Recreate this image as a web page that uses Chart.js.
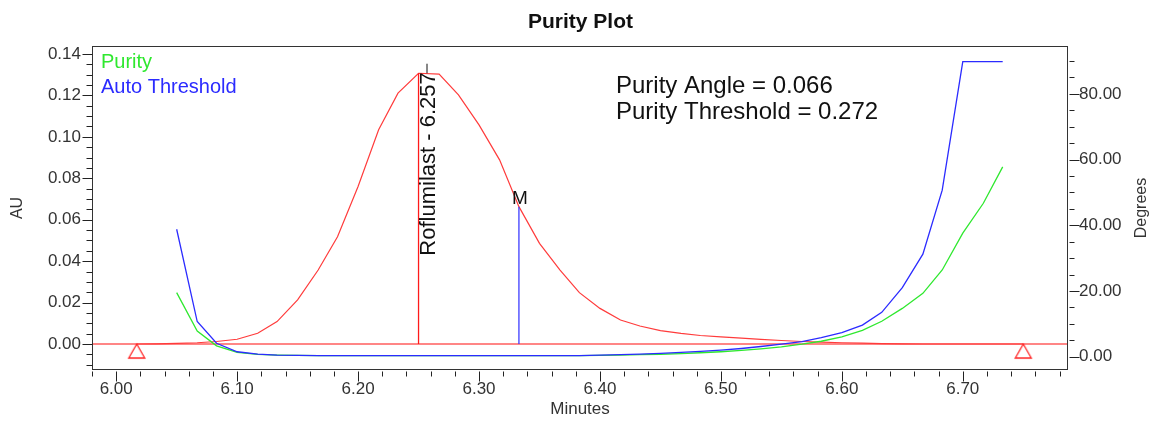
<!DOCTYPE html>
<html>
<head>
<meta charset="utf-8">
<title>Purity Plot</title>
<script src="https://cdn.jsdelivr.net/npm/chart.js@4.4.0/dist/chart.umd.min.js"></script>
<style>
  html, body { margin: 0; padding: 0; background: #fff; }
  canvas { display: block; }
</style>
</head>
<body>
<canvas id="purityChart" width="1151" height="422"></canvas>
<script>
// Chromatogram (AU) sampled every second
const peakTimes = [6.017, 6.033, 6.050, 6.067, 6.083, 6.100, 6.117, 6.133, 6.150, 6.167, 6.183,
  6.200, 6.217, 6.233, 6.250, 6.267, 6.283, 6.300, 6.317, 6.333, 6.350, 6.367, 6.383, 6.400,
  6.417, 6.433, 6.450, 6.467, 6.483, 6.500, 6.517, 6.533, 6.550, 6.567, 6.583, 6.600, 6.617,
  6.633, 6.650, 6.667, 6.683, 6.700, 6.717, 6.733, 6.750];
const peakAU = [0.0000, 0.0001, 0.0003, 0.0006, 0.0012, 0.0023, 0.0052, 0.0108, 0.0213, 0.0357, 0.0518,
  0.0760, 0.1034, 0.1211, 0.1307, 0.1303, 0.1203, 0.1058, 0.0889, 0.0663, 0.0486, 0.0357, 0.0248, 0.0172,
  0.0116, 0.0087, 0.0065, 0.0051, 0.0041, 0.0034, 0.0028, 0.0022, 0.0017, 0.0012, 0.0009, 0.0006, 0.0004,
  0.0002, 0.0001, 0.0000, 0.0000, 0.0000, 0.0000, 0.0000, 0.0000];

// Purity angle / threshold (degrees)
const angleTimes = [6.050, 6.067, 6.083, 6.100, 6.117, 6.133, 6.150, 6.167, 6.183, 6.200, 6.217,
  6.233, 6.250, 6.267, 6.283, 6.300, 6.317, 6.333, 6.350, 6.367, 6.383, 6.400, 6.417, 6.433,
  6.450, 6.467, 6.483, 6.500, 6.517, 6.533, 6.550, 6.567, 6.583, 6.600, 6.617, 6.633, 6.650,
  6.667, 6.683, 6.700, 6.717, 6.733];
const purityAngle = [19.5, 7.8, 3.3, 1.3, 0.7, 0.5, 0.4, 0.35, 0.3, 0.3, 0.3,
  0.3, 0.3, 0.3, 0.3, 0.3, 0.3, 0.3, 0.3, 0.3, 0.35, 0.4, 0.5, 0.6,
  0.75, 0.95, 1.2, 1.5, 1.9, 2.4, 3.0, 3.8, 4.7, 6.0, 8.0, 10.8, 14.7,
  19.3, 26.4, 37.6, 46.7, 57.8];
const autoThreshold = [38.8, 10.7, 4.1, 1.5, 0.8, 0.5, 0.4, 0.35, 0.3, 0.3, 0.3,
  0.3, 0.3, 0.3, 0.3, 0.3, 0.3, 0.3, 0.3, 0.3, 0.35, 0.45, 0.6, 0.8,
  1.0, 1.3, 1.6, 2.0, 2.5, 3.1, 3.8, 4.6, 5.8, 7.3, 9.6, 13.5, 21.0,
  31.2, 50.7, 89.8, 89.8, 89.8];

// Baseline, integration markers, apex line, label leader, M line
const baselineTimes = [5.98, 6.787];
const baselineAU = [0, 0];
const markerTimes = [6.017, 6.750];
const markerAU = [0, 0];
const apexTimes = [6.250, 6.250];
const apexAU = [0, 0.1307];
const leaderTimes = [6.257, 6.257];
const leaderAU = [0.1307, 0.1353];
const mTimes = [6.333, 6.333];
const mAU = [0, 0.0663];

// Tick labels
const minuteLabels = ['6.00', '6.10', '6.20', '6.30', '6.40', '6.50', '6.60', '6.70'];
const auLabels = ['0.00', '0.02', '0.04', '0.06', '0.08', '0.10', '0.12', '0.14'];
const degreeLabels = ['0.00', '20.00', '40.00', '60.00', '80.00'];

const FONT = '"Liberation Sans", Arial, sans-serif';
Chart.defaults.font.family = FONT;

function pts(xs, ys) {
  return xs.map((x, i) => ({ x: x, y: ys[i] }));
}

// hollow triangle hanging below the baseline point
function triangleMarker() {
  const c = document.createElement('canvas');
  c.width = 22;
  c.height = 34;
  const g = c.getContext('2d');
  g.strokeStyle = '#ff2424';
  g.lineWidth = 1.3;
  g.beginPath();
  g.moveTo(11, 17);
  g.lineTo(19, 31);
  g.lineTo(3, 31);
  g.closePath();
  g.stroke();
  return c;
}

// only label ticks that sit exactly on a listed value
function labelFrom(list) {
  return function (value) {
    const s = Number(value).toFixed(2);
    if (!list.includes(s)) return '';
    return Math.abs(value - parseFloat(s)) < 1e-6 ? s : '';
  };
}

const decor = {
  id: 'decor',
  afterDatasetsDraw(chart) {
    const ctx = chart.ctx;
    const a = chart.chartArea;
    const x = chart.scales.x;
    const y = chart.scales.y;
    ctx.save();

    // legend
    ctx.font = '20px ' + FONT;
    ctx.textAlign = 'left';
    ctx.textBaseline = 'alphabetic';
    ctx.fillStyle = '#2fe82f';
    ctx.fillText('Purity', a.left + 9, a.top + 22);
    ctx.fillStyle = '#2b2bff';
    ctx.fillText('Auto Threshold', a.left + 9, a.top + 47);

    // purity results
    ctx.font = '24px ' + FONT;
    ctx.fillStyle = '#111';
    ctx.fillText('Purity Angle = 0.066', a.left + 524, a.top + 47);
    ctx.fillText('Purity Threshold = 0.272', a.left + 524, a.top + 73);

    // peak label
    ctx.save();
    ctx.translate(x.getPixelForValue(leaderTimes[0]) + 8, y.getPixelForValue(leaderAU[0]) - 1);
    ctx.rotate(-Math.PI / 2);
    ctx.font = '22px ' + FONT;
    ctx.textAlign = 'right';
    ctx.fillStyle = '#111';
    ctx.fillText('Roflumilast - 6.257', 0, 0);
    ctx.restore();

    // M label
    ctx.font = '19px ' + FONT;
    ctx.textAlign = 'center';
    ctx.fillStyle = '#111';
    ctx.fillText('M', x.getPixelForValue(mTimes[1]) + 1, y.getPixelForValue(mAU[1]) - 3);
    ctx.restore();
  },
  afterDraw(chart) {
    const ctx = chart.ctx;
    const a = chart.chartArea;
    const x0 = Math.round(a.left) + 0.5;
    const x1 = Math.round(a.right) - 0.5;
    const y0 = Math.round(a.top) + 0.5;
    const y1 = Math.round(a.bottom) - 0.5;
    ctx.save();
    ctx.strokeStyle = '#333';
    ctx.lineWidth = 1;
    ctx.strokeRect(x0, y0, x1 - x0, y1 - y0);

    ctx.strokeStyle = '#222';
    ctx.beginPath();
    chart.scales.x.ticks.forEach(t => {
      const px = Math.round(chart.scales.x.getPixelForValue(t.value)) + 0.5;
      ctx.moveTo(px, y1 + 2);
      ctx.lineTo(px, y1 + 2 + (t.label ? 10 : 5));
    });
    chart.scales.y.ticks.forEach(t => {
      const py = Math.round(chart.scales.y.getPixelForValue(t.value)) + 0.5;
      ctx.moveTo(x0, py);
      ctx.lineTo(x0 - (t.label ? 10 : 6), py);
    });
    chart.scales.y1.ticks.forEach(t => {
      const py = Math.round(chart.scales.y1.getPixelForValue(t.value)) + 0.5;
      ctx.moveTo(x1 + 2, py);
      ctx.lineTo(x1 + 2 + (t.label ? 10 : 5), py);
    });
    ctx.stroke();

    // right axis title, reading upwards
    ctx.translate(chart.width - 9.5, (a.top + a.bottom) / 2);
    ctx.rotate(-Math.PI / 2);
    ctx.font = '16px ' + FONT;
    ctx.fillStyle = '#333';
    ctx.textAlign = 'center';
    ctx.textBaseline = 'middle';
    ctx.fillText('Degrees', 0, 0);
    ctx.restore();
  }
};

const ctx = document.getElementById('purityChart').getContext('2d');
new Chart(ctx, {
  type: 'line',
  data: {
    datasets: [
      { label: 'Markers', data: pts(markerTimes, markerAU), yAxisID: 'y', showLine: false,
        pointStyle: triangleMarker(), pointRadius: 10 },
      { label: 'Auto Threshold', data: pts(angleTimes, autoThreshold), yAxisID: 'y1',
        borderColor: '#2b2bff', borderWidth: 1.3, pointRadius: 0 },
      { label: 'Purity', data: pts(angleTimes, purityAngle), yAxisID: 'y1',
        borderColor: '#2fe82f', borderWidth: 1.3, pointRadius: 0 },
      { label: 'M', data: pts(mTimes, mAU), yAxisID: 'y',
        borderColor: '#3d3dff', borderWidth: 1.3, pointRadius: 0 },
      { label: 'Leader', data: pts(leaderTimes, leaderAU), yAxisID: 'y',
        borderColor: '#111', borderWidth: 1, pointRadius: 0 },
      { label: 'Apex', data: pts(apexTimes, apexAU), yAxisID: 'y',
        borderColor: '#ff1a1a', borderWidth: 1.3, pointRadius: 0 },
      { label: 'Roflumilast', data: pts(peakTimes, peakAU), yAxisID: 'y',
        borderColor: '#ff3b3b', borderWidth: 1.2, pointRadius: 0 },
      { label: 'Baseline', data: pts(baselineTimes, baselineAU), yAxisID: 'y',
        borderColor: 'rgba(255,40,40,0.75)', borderWidth: 1.5, pointRadius: 0 }
    ]
  },
  options: {
    responsive: false,
    animation: false,
    devicePixelRatio: 1,
    events: [],
    layout: { padding: { left: 10, right: 0, top: 0, bottom: 0 } },
    elements: { line: { tension: 0 } },
    plugins: {
      legend: { display: false },
      tooltip: { enabled: false },
      title: {
        display: true,
        text: 'Purity Plot',
        color: '#111',
        font: { size: 21, weight: 'bold', lineHeight: 1.2 },
        padding: { top: 9.4, bottom: 11.4 }
      }
    },
    scales: {
      x: {
        type: 'linear',
        position: 'bottom',
        min: 5.98,
        max: 6.787,
        grid: { display: false, drawTicks: false },
        border: { display: false },
        ticks: {
          stepSize: 0.02,
          includeBounds: false,
          autoSkip: false,
          maxRotation: 0,
          padding: 9,
          color: '#333',
          font: { size: 17 },
          callback: labelFrom(minuteLabels)
        },
        title: {
          display: true,
          text: 'Minutes',
          color: '#333',
          font: { size: 17, lineHeight: 1.2 },
          padding: { top: 0, bottom: 2 }
        },
        afterFit(scale) { scale.height = 52; }
      },
      y: {
        type: 'linear',
        position: 'left',
        min: -0.01255,
        max: 0.14386,
        grid: { display: false, drawTicks: false },
        border: { display: false },
        ticks: {
          stepSize: 0.005,
          includeBounds: false,
          autoSkip: false,
          padding: 11,
          color: '#333',
          font: { size: 17 },
          callback: labelFrom(auLabels)
        },
        title: {
          display: true,
          text: 'AU',
          color: '#333',
          font: { size: 16, lineHeight: 1 },
          padding: { top: 0, bottom: 0 }
        },
        afterFit(scale) { scale.width = 82; }
      },
      y1: {
        type: 'linear',
        position: 'right',
        min: -4.05,
        max: 94.58,
        grid: { display: false, drawTicks: false },
        border: { display: false },
        ticks: {
          stepSize: 5,
          includeBounds: false,
          autoSkip: false,
          padding: 11,
          color: '#333',
          font: { size: 17 },
          callback: labelFrom(degreeLabels)
        },
        afterFit(scale) { scale.width = 83; }
      }
    }
  },
  plugins: [decor]
});
</script>
</body>
</html>
